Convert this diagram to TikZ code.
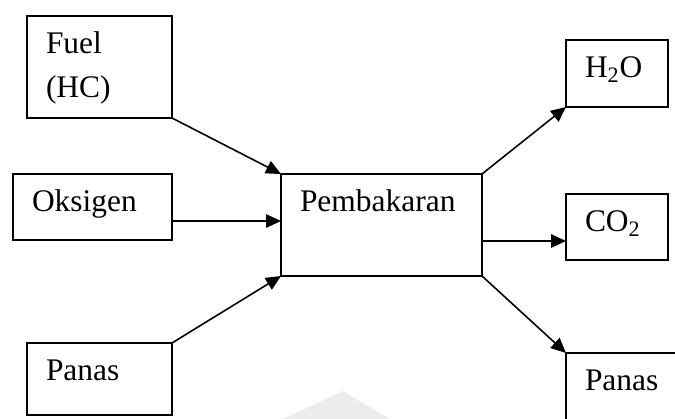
\documentclass[tikz,border=0pt]{standalone}
\usepackage{fontspec}
\setmainfont{Liberation Serif}
\usepackage{tikz}
\usetikzlibrary{arrows.meta}
\usetikzlibrary{positioning}
\tikzset{
  kotak/.style={draw, line width=1pt, anchor=north west, align=left, text width=#1,
    inner xsep=0.38cm, inner ysep=0pt, outer sep=0pt, text height=0.76cm,
    font=\fontsize{17.9pt}{25pt}\selectfont},
  kotak/.default=2.14cm,
  panah/.style={-{Triangle[length=0.3cm, width=0.27cm]}, line width=0.9pt},
}

\begin{document}
\begin{tikzpicture}
  \clip (0,0) rectangle (13.5,-8.38);
  % faint mark at the bottom
  \fill[gray!15] (5.66,-8.38) -- (6.86,-7.82) -- (7.8,-8.38) -- cycle;

  \node[kotak, text depth=1.28cm] (fuel) at (0.54,-0.32) {Fuel\\(HC)};
  \node[kotak=2.42cm, text depth=0.56cm] (oksigen) at (0.26,-3.48) {Oksigen};
  \node[kotak, text depth=0.68cm] (panas1) at (0.54,-6.86) {Panas};
  \node[kotak=3.26cm, text depth=1.28cm] (bakar) at (5.62,-3.48) {Pembakaran};
  \node[kotak=1.28cm, text depth=0.58cm] (h2o) at (11.32,-0.80) {H\textsubscript{2}O};
  \node[kotak=1.28cm, text depth=0.56cm] (co2) at (11.32,-3.88) {CO\textsubscript{2}};
  \node[kotak, text depth=0.68cm] (panas2) at (11.32,-7.06) {Panas};

  \draw[panah] (fuel.south east) -- (bakar.north west);
  \draw[panah] ([yshift=0.08cm]bakar.west -| oksigen.east) -- ([yshift=0.08cm]bakar.west);
  \draw[panah] (panas1.north east) -- (bakar.south west);
  \draw[panah] (bakar.north east) -- (h2o.south west);
  \draw[panah] ([yshift=-0.32cm]bakar.east) -- ([yshift=-0.32cm]bakar.east -| co2.west);
  \draw[panah] (bakar.south east) -- (panas2.north west);
\end{tikzpicture}
\end{document}
